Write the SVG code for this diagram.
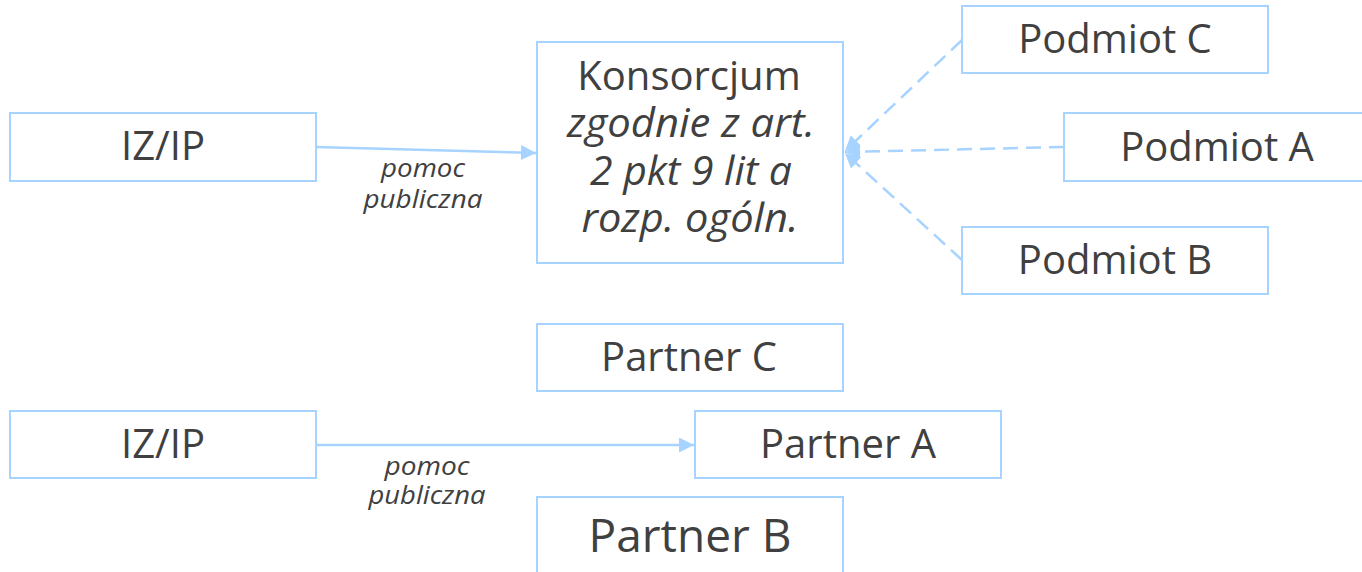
<svg xmlns="http://www.w3.org/2000/svg" width="1362" height="572" viewBox="0 0 1362 572">
<defs>
<style>
.box{fill:#fff;stroke:#a6d3ff;stroke-width:2}
.t{font-family:"Open Sans","Liberation Sans",sans-serif;font-size:40px;fill:#404040;text-anchor:middle}
.i{font-style:italic}
.lbl{font-family:"Open Sans","Liberation Sans",sans-serif;font-size:25px;font-style:italic;fill:#404040;text-anchor:middle}
.c{fill:none;stroke:#a6d3ff;stroke-width:2.5}
.d{stroke-dasharray:15 8}
</style>
<marker id="ah" viewBox="0 0 10 10" refX="10" refY="5" markerWidth="6" markerHeight="6" markerUnits="strokeWidth" orient="auto"><path d="M0,0 L10,5 L0,10 z" fill="#a6d3ff"/></marker>
</defs>
<g id="connectors">
<path class="c" d="M316,147 L536,153" marker-end="url(#ah)"/>
<path class="c" d="M316,445 L694,445" marker-end="url(#ah)"/>
<path class="c d" d="M962,40 L845,151" marker-end="url(#ah)"/>
<path class="c d" d="M1064,147 L845,152" marker-end="url(#ah)"/>
<path class="c d" d="M962,260 L845,153" marker-end="url(#ah)"/>
<text class="lbl" x="423" y="177" textLength="84" lengthAdjust="spacingAndGlyphs">pomoc</text>
<text class="lbl" x="423" y="208" textLength="119" lengthAdjust="spacingAndGlyphs">publiczna</text>
<text class="lbl" x="427" y="475" textLength="85" lengthAdjust="spacingAndGlyphs">pomoc</text>
<text class="lbl" x="427" y="504" textLength="117" lengthAdjust="spacingAndGlyphs">publiczna</text>
</g>
<g id="izip1"><rect class="box" x="10" y="113" width="306" height="68"/><text class="t" x="163" y="160">IZ/IP</text></g>
<g id="konsorcjum"><rect class="box" x="537" y="42" width="306" height="221"/>
<text class="t" x="689" y="90">Konsorcjum</text>
<text class="t i" x="691" y="137" textLength="248" lengthAdjust="spacingAndGlyphs">zgodnie z art.</text>
<text class="t i" x="691" y="185" textLength="202" lengthAdjust="spacingAndGlyphs">2 pkt 9 lit a</text>
<text class="t i" x="690" y="232" textLength="217" lengthAdjust="spacingAndGlyphs">rozp. ogóln.</text></g>
<g id="podmiotC"><rect class="box" x="962" y="6" width="306" height="67"/><text class="t" x="1115" y="53">Podmiot C</text></g>
<g id="podmiotA"><rect class="box" x="1064" y="113" width="306" height="68"/><text class="t" x="1217" y="161">Podmiot A</text></g>
<g id="podmiotB"><rect class="box" x="962" y="227" width="306" height="67"/><text class="t" x="1115" y="274">Podmiot B</text></g>
<g id="partnerC"><rect class="box" x="537" y="324" width="306" height="67"/><text class="t" x="689" y="371">Partner C</text></g>
<g id="izip2"><rect class="box" x="10" y="411" width="306" height="67"/><text class="t" x="163" y="458">IZ/IP</text></g>
<g id="partnerA"><rect class="box" x="695" y="411" width="306" height="67"/><text class="t" x="848" y="458">Partner A</text></g>
<g id="partnerB"><rect class="box" x="537" y="497" width="306" height="90"/><text class="t" x="690" y="552" style="font-size:46px">Partner B</text></g>
</svg>
